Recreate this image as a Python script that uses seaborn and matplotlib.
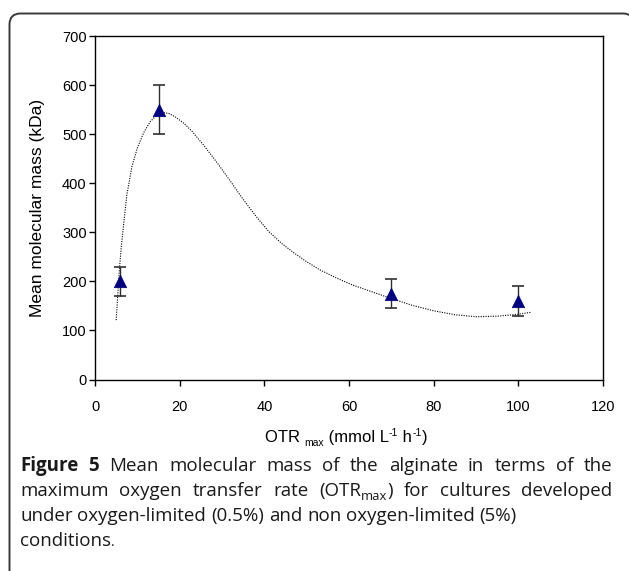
import numpy as np
import pandas as pd
import matplotlib
matplotlib.use("Agg")
import matplotlib.pyplot as plt
import seaborn as sns
from matplotlib.path import Path
from matplotlib.patches import PathPatch

# ---------------- data ----------------
otr = [6, 15, 70, 100]
mass = [200, 550, 175, 160]
err = [30, 50, 30, 30]

trend_x = [5.0, 5.4, 5.75, 6.2, 6.7, 7.5, 8.7, 10.0, 11.5, 13.0, 14.5, 16.0, 17.5, 19.0,
           21.0, 23.0, 26.0, 29.0, 32.0, 35.0, 38.0, 41.0, 44.0, 47.0, 50.0, 53.0,
           57.0, 61.0, 65.0, 70.0, 75.0, 80.0, 85.0, 90.0, 95.0, 100.0, 103.0]
trend_y = [121, 175, 223, 270, 311, 375, 433, 472, 503, 525, 538, 544, 542, 535,
           522, 505, 474, 440, 404, 367, 333, 302, 278, 258, 240, 224,
           207, 192, 180, 165, 151, 140, 132, 128, 129, 133, 137]

x_ticks = [0, 20, 40, 60, 80, 100, 120]
y_ticks = [0, 100, 200, 300, 400, 500, 600, 700]

caption = [
    [[("Figure", "b")], [("5", "b")], [("Mean", "r")], [("molecular", "r")], [("mass", "r")],
     [("of", "r")], [("the", "r")], [("alginate", "r")], [("in", "r")], [("terms", "r")],
     [("of", "r")], [("the", "r")]],
    [[("maximum", "r")], [("oxygen", "r")], [("transfer", "r")], [("rate", "r")],
     [("(OTR", "r"), ("max", "s"), (")", "r")], [("for", "r")], [("cultures", "r")],
     [("developed", "r")]],
    [[("under", "r")], [("oxygen-limited", "r")], [("(0.5%)", "r")], [("and", "r")],
     [("non", "r")], [("oxygen-limited", "r")], [("(5%)", "r")]],
    [[("conditions", "r"), (".", "p")]],
]
justify = [True, True, False, False]

xlabel_parts = [("OTR ", "n"), ("max", "sub"), (" (mmol L", "n"), ("-1", "sup"),
                (" h", "n"), ("-1", "sup"), (")", "n")]

# ---------------- figure ----------------
W, H = 629, 571
sns.set_theme(style="white")
plt.rcParams["font.family"] = ["Liberation Sans", "DejaVu Sans"]

fig = plt.figure(figsize=(W / 100, H / 100), dpi=100)
fig.patch.set_facecolor("white")

# rounded frame drawn in pixel units (y measured from top), converted to figure fraction
def fp(x, y):
    return (x / W, 1 - y / H)

r = 11
L, T, R = 9.5, 13.5, 634.0
verts = [fp(L, H + 10), fp(L, T + r), fp(L, T), fp(L + r, T), fp(R - r, T), fp(R, T),
         fp(R, T + r), fp(R, H + 10)]
codes = [Path.MOVETO, Path.LINETO, Path.CURVE3, Path.CURVE3, Path.LINETO, Path.CURVE3,
         Path.CURVE3, Path.LINETO]
frame = PathPatch(Path(verts, codes), transform=fig.transFigure, fill=False,
                  edgecolor="#3a3a3a", linewidth=1.4, clip_on=False)
fig.patches.append(frame)

ax_l, ax_r, ax_t, ax_b = 95, 603, 36, 379.5
ax = fig.add_axes([ax_l / W, 1 - ax_b / H, (ax_r - ax_l) / W, (ax_b - ax_t) / H])
ax.set_facecolor("white")

df_trend = pd.DataFrame({"x": trend_x, "y": trend_y})
sns.lineplot(data=df_trend, x="x", y="y", ax=ax, color="black", linewidth=0.8,
             linestyle=(0, (1, 1.2)), sort=False, zorder=2)

ax.errorbar(otr, mass, yerr=err, fmt="none", ecolor="#303030", elinewidth=1.0,
            capsize=4, capthick=1.2, zorder=3)
df_pts = pd.DataFrame({"x": otr, "y": mass})
sns.scatterplot(data=df_pts, x="x", y="y", ax=ax, marker="^", s=80,
                color="#000080", edgecolor="#000080", linewidth=0.5, zorder=4)

ax.set_xlim(0, 120)
ax.set_ylim(0, 700)
ax.set_xticks(x_ticks)
ax.set_yticks(y_ticks)
ax.set_xticklabels([str(v) for v in x_ticks])
ax.set_yticklabels([str(v) for v in y_ticks])
ax.tick_params(axis="both", direction="out", length=4, width=1, colors="black",
               labelsize=10.5, left=True, bottom=True)
ax.tick_params(axis="x", pad=11)
ax.tick_params(axis="y", pad=2)
for s in ax.spines.values():
    s.set_color("black")
    s.set_linewidth(1.0)
    s.set_visible(True)
ax.set_xlabel("")
ax.set_ylabel("")

fig.text(38 / W, 1 - 208 / H, "Mean molecular mass (kDa)", rotation=90,
         ha="center", va="center", fontsize=12.5, color="black")

renderer = fig.canvas.get_renderer()

# x label built from pieces (hyphen superscripts, small subscript)
xl_fs = 12.0
def xl_kw(st):
    if st in ("sub", "sup"):
        return dict(fontsize=xl_fs * 0.62)
    return dict(fontsize=xl_fs)

def measure_plain(txt, kw, family):
    t = fig.text(0, 0, txt, family=family, **kw)
    w = t.get_window_extent(renderer).width
    t.remove()
    return w

xl_font = ["Liberation Sans", "DejaVu Sans"]
xl_widths = [measure_plain(t, xl_kw(st), xl_font) for t, st in xlabel_parts]
xl_total = sum(xl_widths)
xpos = 346 - xl_total / 2
xl_base = 442
for (t, st), w in zip(xlabel_parts, xl_widths):
    dy = {"sub": 3.5, "sup": -6.5}.get(st, 0)
    fig.text(xpos / W, 1 - (xl_base + dy) / H, t, family=xl_font, color="black",
             ha="left", va="baseline", **xl_kw(st))
    xpos += w

# ---------------- caption ----------------
cap_font = ["Open Sans", "DejaVu Sans"]
cap_color = "#1a1a1a"
fs = 13.5
x0, x1 = 20.0, 612.0
baselines = [471, 496, 521, 546]


def style_kw(st):
    if st == "b":
        return dict(fontsize=fs, fontweight="bold")
    if st == "s":
        return dict(fontsize=fs * 0.7, fontweight="normal")
    if st == "p":
        return dict(fontsize=fs * 0.75, fontweight="normal")
    return dict(fontsize=fs, fontweight="normal")


def measure(txt, st):
    return measure_plain(txt, style_kw(st), cap_font)

space_w = measure("a a", "r") - measure("aa", "r")

for line, just, base in zip(caption, justify, baselines):
    widths = [[measure(seg, st) for seg, st in word] for word in line]
    word_w = [sum(ws) for ws in widths]
    total = sum(word_w)
    if just and len(line) > 1:
        gap = (x1 - x0 - total) / (len(line) - 1)
    else:
        gap = space_w
    x = x0
    for word, ws in zip(line, widths):
        for (seg, st), w in zip(word, ws):
            y = base + (3.5 if st == "s" else 0)
            fig.text(x / W, 1 - y / H, seg, family=cap_font, color=cap_color,
                     ha="left", va="baseline", **style_kw(st))
            x += w
        x += gap

fig.savefig("out.png", dpi=100, facecolor="white")
